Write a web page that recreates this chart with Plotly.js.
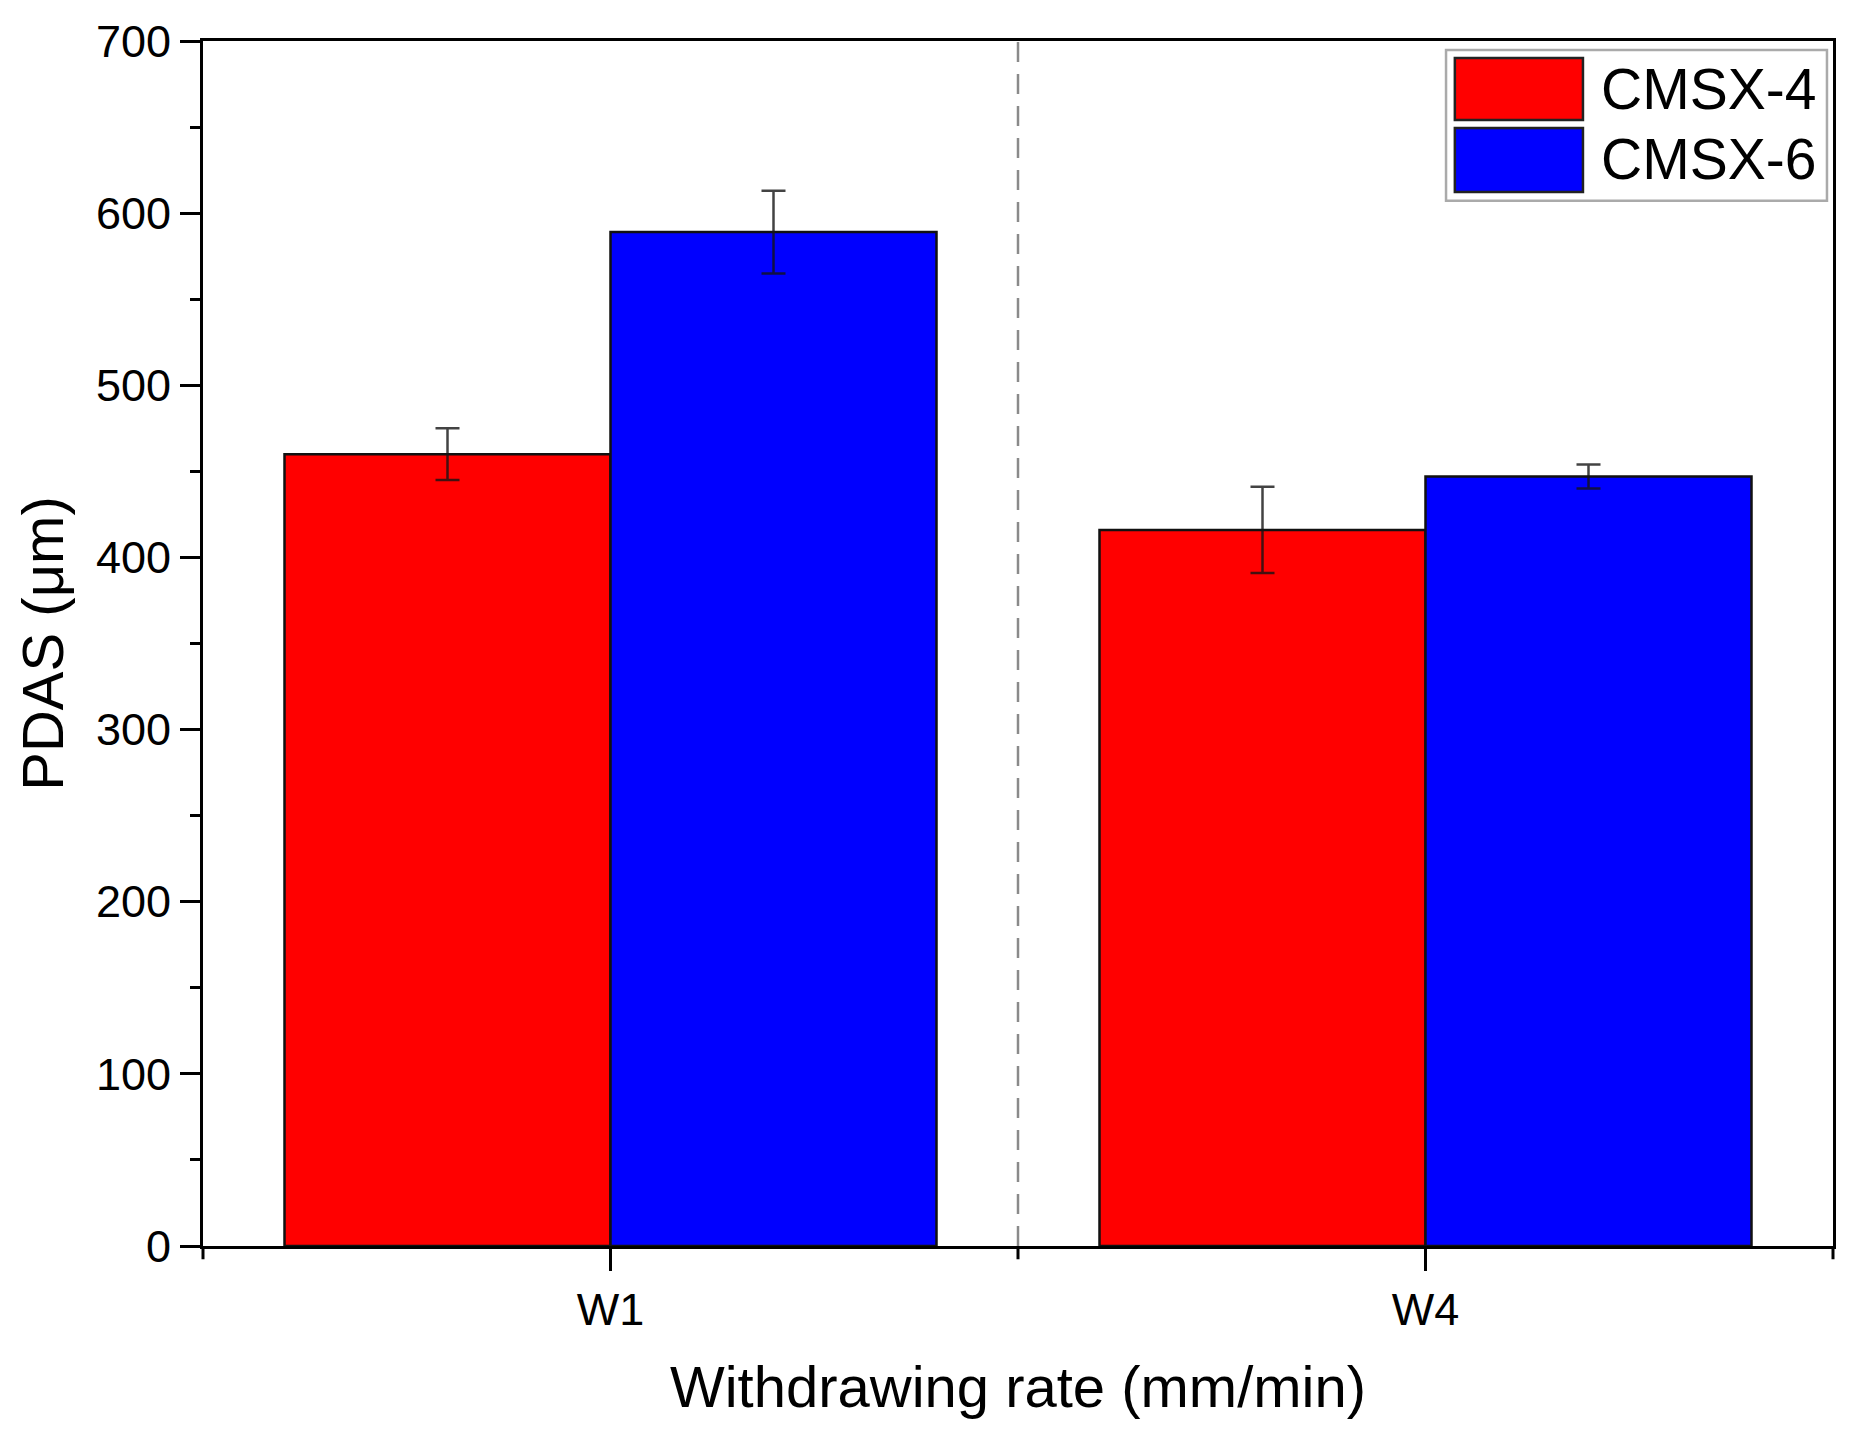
<!DOCTYPE html>
<html>
<head>
<meta charset="utf-8">
<script src="https://cdn.plot.ly/plotly-3.0.1.min.js"></script>
<style>html,body{margin:0;padding:0;background:#fff;}#chart{width:1860px;height:1443px;}</style>
</head>
<body>
<div id="chart"></div>
<script>
// ---- data ----
var categories = ['W1', 'W4'];
var seriesNames = ['CMSX-4', 'CMSX-6'];
var cmsx4Values = [460, 416];
var cmsx4Errors = [15, 25];
var cmsx6Values = [589, 447];
var cmsx6Errors = [24, 7];
var yTickValues = [0, 100, 200, 300, 400, 500, 600, 700];
var xTitle = 'Withdrawing rate (mm/min)';
var yTitle = 'PDAS (μm)';

var FONT = 'Liberation Sans, Arial, sans-serif';
var colors = ['#ff0000', '#0000ff'];

function barTrace(name, vals, errs, color) {
  return {
    type: 'bar', name: name, x: categories, y: vals,
    marker: {color: color, line: {color: '#111', width: 2.5}},
    error_y: {type: 'data', array: errs, visible: true, color: 'rgba(20,20,20,0.8)', thickness: 2.5, width: 12},
    showlegend: false, hoverinfo: 'skip'
  };
}

var data = [
  barTrace(seriesNames[0], cmsx4Values, cmsx4Errors, colors[0]),
  barTrace(seriesNames[1], cmsx6Values, cmsx6Errors, colors[1])
];

var shapes = [
  // dashed divider between groups
  {type: 'line', xref: 'x', yref: 'paper', x0: 0.5, x1: 0.5, y0: 0, y1: 1,
   line: {color: '#8a8a8a', width: 2.5, dash: '20px,12px'}, layer: 'above'},
  // short ticks at divider and ends of x axis
  {type: 'line', xref: 'x', yref: 'paper', x0: 0.5, x1: 0.5, y0: 0, y1: -0.011, line: {color: '#000', width: 3}},
  {type: 'line', xref: 'paper', yref: 'paper', x0: 0, x1: 0, y0: 0, y1: -0.011, line: {color: '#000', width: 3}},
  {type: 'line', xref: 'paper', yref: 'paper', x0: 1, x1: 1, y0: 0, y1: -0.011, line: {color: '#000', width: 3}},
  // legend box
  {type: 'rect', xref: 'paper', yref: 'paper', x0: 0.7626, x1: 0.9963, y0: 0.8675, y1: 0.9925,
   line: {color: '#aaaaaa', width: 2.5}, fillcolor: '#ffffff', layer: 'above'},
  {type: 'rect', xref: 'paper', yref: 'paper', x0: 0.768, x1: 0.8466, y0: 0.9344, y1: 0.9859,
   line: {color: '#222', width: 2.5}, fillcolor: colors[0], layer: 'above'},
  {type: 'rect', xref: 'paper', yref: 'paper', x0: 0.768, x1: 0.8466, y0: 0.8747, y1: 0.9278,
   line: {color: '#222', width: 2.5}, fillcolor: colors[1], layer: 'above'}
];

var annotations = [
  {xref: 'paper', yref: 'paper', x: 0.8565, y: 0.9602, xanchor: 'left', yanchor: 'middle',
   text: seriesNames[0], showarrow: false, font: {family: FONT, size: 57, color: '#000'}},
  {xref: 'paper', yref: 'paper', x: 0.8565, y: 0.9017, xanchor: 'left', yanchor: 'middle',
   text: seriesNames[1], showarrow: false, font: {family: FONT, size: 57, color: '#000'}}
];

var layout = {
  width: 1860, height: 1443,
  margin: {l: 203, r: 27, t: 41, b: 197, pad: 0},
  paper_bgcolor: '#fff', plot_bgcolor: '#fff',
  barmode: 'group', bargap: 0.2, bargroupgap: 0,
  font: {family: FONT, color: '#000'},
  xaxis: {
    type: 'category', range: [-0.5, 1.5],
    showline: true, linecolor: '#000', linewidth: 3, mirror: true,
    ticks: 'outside', ticklen: 22, tickwidth: 3, tickcolor: '#000',
    tickfont: {family: FONT, size: 45, color: '#000'},
    showgrid: false, zeroline: false,
    title: {text: xTitle, font: {family: FONT, size: 58, color: '#000'}, standoff: 33}
  },
  yaxis: {
    range: [0, 700], tickvals: yTickValues,
    showline: true, linecolor: '#000', linewidth: 3, mirror: true,
    ticks: 'outside', ticklen: 20, tickwidth: 3, tickcolor: '#000',
    minor: {dtick: 50, ticks: 'outside', ticklen: 10, tickwidth: 3, tickcolor: '#000', showgrid: false},
    tickfont: {family: FONT, size: 45, color: '#000'},
    showgrid: false, zeroline: false,
    title: {text: yTitle, font: {family: FONT, size: 58, color: '#000'}, standoff: 14}
  },
  shapes: shapes,
  annotations: annotations
};

Plotly.newPlot('chart', data, layout, {displayModeBar: false, staticPlot: true});
</script>
</body>
</html>
